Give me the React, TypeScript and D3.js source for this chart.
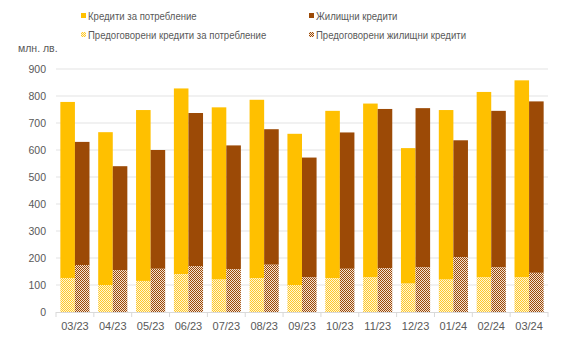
import React from "react";
import * as d3 from "d3";

const categories = ["03/23","04/23","05/23","06/23","07/23","08/23","09/23","10/23","11/23","12/23","01/24","02/24","03/24"];
const consumerTotal = [778, 666, 748, 828, 758, 786, 660, 745, 772, 607, 748, 815, 858];
const housingTotal = [630, 540, 600, 737, 617, 677, 572, 665, 752, 755, 636, 745, 780];
const consumerPre = [126, 100, 115, 140, 120, 125, 100, 125, 128, 105, 120, 128, 128];
const housingPre = [174, 155, 160, 170, 158, 175, 128, 160, 162, 165, 203, 165, 145];
const yTicks = [0, 100, 200, 300, 400, 500, 600, 700, 800, 900];
const legendLabels = ["Кредити за потребление", "Жилищни кредити", "Предоговорени кредити за потребление", "Предоговорени жилищни кредити"];

const W = 584, H = 342;
const C_CONS = "#FFC000";
const C_HOUS = "#9C4A06";
const FONT = "'Liberation Sans', Arial, sans-serif";
const TXT = "#595959";

export default function App() {
  const x = d3.scaleBand<string>().domain(categories).range([56, 548]).paddingInner(0.23).paddingOuter(0.115);
  const y = d3.scaleLinear().domain([0, 900]).range([312, 69]);
  const bw = x.bandwidth() / 2;
  const step = x.step();

  return (
    <div style={{ margin: -8 }}>
      <svg width={W} height={H} style={{ display: "block", background: "#fff" }}>
        <defs>
          <pattern id="pc" width="2" height="2" patternUnits="userSpaceOnUse">
            <rect width="2" height="2" fill="#FFF6D6" />
            <rect width="1" height="1" fill="#FFC82A" />
            <rect x="1" y="1" width="1" height="1" fill="#FFC82A" />
          </pattern>
          <pattern id="ph" width="2" height="2" patternUnits="userSpaceOnUse">
            <rect width="2" height="2" fill="#F3E3D6" />
            <rect width="1" height="1" fill="#9C4A06" />
            <rect x="1" y="1" width="1" height="1" fill="#9C4A06" />
          </pattern>
        </defs>
        {yTicks.map((t) => (
          <g key={t}>
            {t > 0 && <line x1={56} x2={548} y1={y(t)} y2={y(t)} stroke="#e3e3e3" strokeWidth={1} />}
            <text x={46} y={y(t)} dy="0.35em" textAnchor="end" fontFamily={FONT} fontSize={10.5} fill={TXT}>{t}</text>
          </g>
        ))}
        <text x={18} y={52} fontFamily={FONT} fontSize={10.5} fill={TXT}>млн. лв.</text>
        {categories.map((c, i) => {
          const x0 = x(c)!;
          return (
            <g key={c}>
              <rect x={x0} y={y(consumerTotal[i])} width={bw} height={y(consumerPre[i]) - y(consumerTotal[i])} fill={C_CONS} />
              <rect x={x0} y={y(consumerPre[i])} width={bw} height={y(0) - y(consumerPre[i])} fill="url(#pc)" />
              <rect x={x0 + bw} y={y(housingTotal[i])} width={bw} height={y(housingPre[i]) - y(housingTotal[i])} fill={C_HOUS} />
              <rect x={x0 + bw} y={y(housingPre[i])} width={bw} height={y(0) - y(housingPre[i])} fill="url(#ph)" />
              <text x={x0 + bw} y={330} textAnchor="middle" fontFamily={FONT} fontSize={11} fill={TXT}>{c}</text>
            </g>
          );
        })}
        <line x1={56} x2={548} y1={y(0) + 0.5} y2={y(0) + 0.5} stroke="#d9d9d9" />
        {d3.range(categories.length + 1).map((k) => (
          <line key={k} x1={56 + k * step} x2={56 + k * step} y1={y(0)} y2={y(0) + 5} stroke="#d9d9d9" />
        ))}
        {[0, 1, 2, 3].map((k) => {
          const lx = k % 2 === 0 ? 85 : 313;
          const ly = k < 2 ? 16 : 35;
          const fill = k === 0 ? C_CONS : k === 1 ? C_HOUS : k === 2 ? "url(#pc)" : "url(#ph)";
          return (
            <g key={k}>
              <rect x={lx - 4} y={ly - 3} width={5} height={5} fill={fill} />
              <text transform={`translate(${lx + 3},${ly}) scale(0.87,1)`} dy="0.35em" fontFamily={FONT} fontSize={11} fill={TXT}>{legendLabels[k]}</text>
            </g>
          );
        })}
      </svg>
    </div>
  );
}
